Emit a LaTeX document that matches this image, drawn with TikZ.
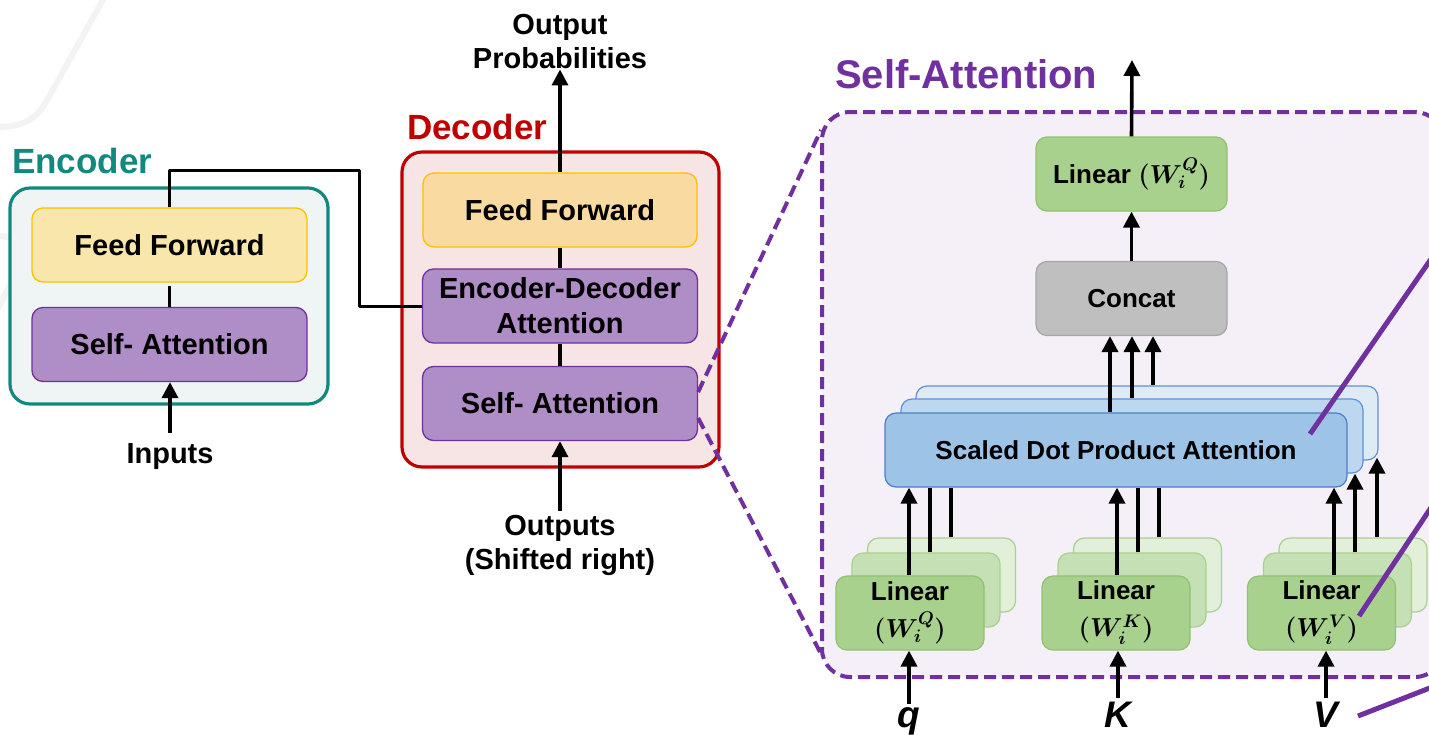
\RequirePackage{fix-cm}
\documentclass[tikz,border=0pt]{standalone}
\usepackage{fontspec}
\setmainfont{Liberation Sans}
\usetikzlibrary{arrows.meta,calc}

\newcommand\fsz[2]{\fontsize{#1}{#2}\selectfont}
\newcommand\wmat[1]{{\boldmath\((W_i^{#1})\)}}

\definecolor{encline}{HTML}{12897F}
\definecolor{encfill}{HTML}{EFF5F5}
\definecolor{decline}{HTML}{C00000}
\definecolor{decfill}{HTML}{F7E4E4}
\definecolor{ffefill}{HTML}{F8E6AA}
\definecolor{ffdfill}{HTML}{F9DAA0}
\definecolor{ffline}{HTML}{FFC000}
\definecolor{safill}{HTML}{AF8DC6}
\definecolor{purp}{HTML}{7030A0}
\definecolor{panfill}{HTML}{F5F0F7}
\definecolor{gA}{HTML}{A9D18E}
\definecolor{gAline}{HTML}{8FC26E}
\definecolor{gB}{HTML}{C5E0B4}
\definecolor{gC}{HTML}{E2F0D9}
\definecolor{gBline}{HTML}{A9D18E}
\definecolor{bA}{HTML}{9DC3E6}
\definecolor{bAline}{HTML}{4A7ECF}
\definecolor{bB}{HTML}{BDD7EE}
\definecolor{bC}{HTML}{DEEBF7}
\definecolor{bBline}{HTML}{5B93D8}
\definecolor{catfill}{HTML}{BFBFBF}
\definecolor{catline}{HTML}{A6A6A6}
\definecolor{wmark}{HTML}{F3F3F3}

\tikzset{
  blk/.style={draw, rounded corners=11pt, line width=1.3pt, inner sep=0pt,
    align=center, font={\fsz{29}{35}\bfseries}},
  ffE/.style={blk, fill=ffefill, draw=ffline, minimum width=275pt, minimum height=74pt},
  ffD/.style={blk, fill=ffdfill, draw=ffline, minimum width=274pt, minimum height=74pt},
  saB/.style={blk, fill=safill, draw=purp, minimum width=275pt, minimum height=74pt},
  sm/.style={draw, rounded corners=11pt, line width=1.2pt, inner sep=0pt,
    align=center, font={\fsz{26}{37}\bfseries}},
  linA/.style={sm, fill=gA, draw=gAline, minimum width=148pt, minimum height=74pt},
  linB/.style={sm, fill=gB, draw=gBline, minimum width=148pt, minimum height=74pt},
  linC/.style={sm, fill=gC, draw=gBline, minimum width=148pt, minimum height=74pt},
  sdA/.style={sm, fill=bA, draw=bAline, minimum width=462pt, minimum height=74pt},
  sdB/.style={sm, fill=bB, draw=bBline, minimum width=462pt, minimum height=74pt},
  sdC/.style={sm, fill=bC, draw=bBline, minimum width=462pt, minimum height=74pt},
  topbox/.style={sm, minimum width=191pt, minimum height=74pt},
  lbl/.style={inner sep=0pt, align=center, font={\fsz{29}{34}\bfseries}},
  ttl/.style={inner sep=0pt, anchor=base west, font={\fsz{35}{40}\bfseries}},
  vec/.style={inner sep=0pt, anchor=base, font={\fsz{37}{40}\bfseries\itshape}},
  ln/.style={line width=3.6pt},
  arr/.style={line width=3.6pt, -{Triangle[length=16pt, width=16pt]}},
  dashln/.style={draw=purp, line width=4pt, dash pattern=on 12pt off 6pt},
  slash/.style={draw=purp, line width=5pt},
  wm/.style={draw=wmark, line width=6pt, line cap=round}
}

\begin{document}
\begin{tikzpicture}[x=1pt, y=-1pt, line join=round]
\clip (0,0) rectangle (1429,734);
\fill[white] (0,0) rectangle (1429,734);

% faint background strokes
\draw[wm] (105,-4) -- (46,102) .. controls (36,120) and (22,127) .. (-4,127);
\draw[wm] (-4,236) .. controls (18,236) and (30,244) .. (24,258) -- (-4,312);

% ---------------- Encoder ----------------
\node[draw=encline, fill=encfill, line width=3.2pt, rounded corners=20pt,
      minimum width=318pt, minimum height=216pt] (enc) at (169,296) {};
\node[ttl, text=encline] (enclbl) at (12,173) {Encoder};
\node[ffE] (eff) at (169.5,245) {Feed Forward};
\node[saB] (esa) at (169.5,344.5) {Self- Attention};
\node[lbl, anchor=base] (inp) at (170,463) {Inputs};
\draw[ln, shorten <=3pt] (eff.south) -- (esa.north);
\draw[arr, shorten <=10pt] (inp.north) -- (inp.north |- esa.south);

% ---------------- Decoder ----------------
\node[draw=decline, fill=decfill, line width=3.2pt, rounded corners=20pt,
      minimum width=317pt, minimum height=315pt] (dec) at (560.5,309.5) {};
\node[ttl, text=decline] (declbl) at (407,139) {Decoder};
\node[ffD] (dff) at (560,210) {Feed Forward};
\node[saB] (eda) at (560,306) {Encoder-Decoder\\Attention};
\node[saB] (dsa) at (560,403.5) {Self- Attention};
\node[lbl] (outs) at (560,545) {Outputs\\(Shifted right)};
\node[lbl] (oprob) at (560,42) {Output\\Probabilities};
\draw[ln] (dff.south) -- (eda.north);
\draw[ln] (eda.south) -- (dsa.north);
\draw[arr, shorten <=4pt] (outs.north) -- (dsa.south);
\draw[arr] (dff.north) -- (oprob.south);

% encoder output feeding the encoder-decoder attention
\coordinate (bend) at (359,170);
\draw[line width=3pt] (eff.north) |- (bend) |- (eda.west);

% ---------------- Multi-head self-attention panel ----------------
\node[draw=purp, fill=panfill, line width=4pt, dash pattern=on 12pt off 6pt,
      rounded corners=28pt, minimum width=621pt, minimum height=565pt] (pan) at (1132.5,394.5) {};
\node[ttl, text=purp, font={\fsz{40}{44}\bfseries}] (pantitle) at (835,88) {Self-Attention};

% zoom lines from the decoder self-attention block
\coordinate (pc1) at ($(pan.north west)+(1,20)$);
\coordinate (pc2) at ($(pan.south west)+(0,-27)$);
\draw[dashln] ($(dsa.east)+(0,-11.5)$) -- (pc1);
\draw[dashln] ($(dsa.east)+(0,14.5)$) -- (pc2);

% output projection and concatenation
\node[topbox, fill=gA, draw=gAline] (lin) at (1131.5,174) {Linear \wmat{Q}};
\node[topbox, fill=catfill, draw=catline] (cat) at (1131.5,298.5) {Concat};
\coordinate (topout) at (1132,60);
\draw[arr] (lin.north) -- (topout);
\draw[arr] (cat.north) -- (lin.south);

% stacked scaled dot-product attention heads
\node[sdC] (sa3) at (1147,423) {};
\node[sdB] (sa2) at (1132,436) {};
\node[sdA] (sa1) at (1116,450) {Scaled Dot Product Attention};

% stacked linear projections for q, K, V
\foreach \nm/\cx in {q/910, k/1116, v/1321.5}{
  \node[linC] (l\nm3) at (\cx+31.5,575) {};
  \node[linB] (l\nm2) at (\cx+16,590) {};
}
\node[linA] (lq1) at (910,613) {Linear\\\wmat{Q}};
\node[linA] (lk1) at (1116,613) {Linear\\\wmat{K}};
\node[linA] (lv1) at (1321.5,613) {Linear\\\wmat{V}};

% heads into concat
\draw[arr] ($(sa1.north)+(-6,0)$) coordinate (h1) -- (h1 |- cat.south);
\draw[arr] ($(sa2.north)+(0,0)$) coordinate (h2) -- (h2 |- cat.south);
\draw[arr] ($(sa3.north)+(6,0)$) coordinate (h3) -- (h3 |- cat.south);

% projections into the attention heads
\draw[arr] ($(lq1.north)+(-1,0)$) coordinate (q1) -- (q1 |- sa1.south);
\draw[ln] ($(lq2.north)+(4,0)$) coordinate (q2) -- (q2 |- sa1.south);
\draw[ln] ($(lq3.north)+(9.5,0)$) coordinate (q3) -- (q3 |- sa1.south);
\draw[arr] ($(lk1.north)+(1,0)$) coordinate (k1) -- (k1 |- sa1.south);
\draw[ln] ($(lk2.north)+(6,0)$) coordinate (k2) -- (k2 |- sa1.south);
\draw[ln] ($(lk3.north)+(11.5,0)$) coordinate (k3) -- (k3 |- sa1.south);
\draw[arr] ($(lv1.north)+(12.5,0)$) coordinate (v1) -- (v1 |- sa1.south);
\draw[arr] ($(lv2.north)+(17.5,0)$) coordinate (v2) -- (v2 |- sa2.south);
\draw[arr] ($(lv3.north)+(24,0)$) coordinate (v3) -- ($(v3 |- sa3.south)+(0,-3)$);

% inputs q, K, V
\node[vec] (qin) at (909,727) {q};
\node[vec] (kin) at (1118,727) {K};
\node[vec] (vin) at (1326,727) {V};
\draw[arr, shorten <=3pt] (qin.north) -- (qin.north |- lq1.south);
\draw[arr, shorten <=3pt] (kin.north) -- (kin.north |- lk1.south);
\draw[arr, shorten <=3pt] (vin.north) -- (vin.north |- lv1.south);

% purple strokes entering from the right
\coordinate (s1a) at (1310,434); \coordinate (s1b) at (1440,246);
\coordinate (s2a) at (1359,616); \coordinate (s2b) at (1440,494);
\coordinate (s3a) at (1358,716); \coordinate (s3b) at (1440,684);
\draw[slash] (s1a) -- (s1b);
\draw[slash] (s2a) -- (s2b);
\draw[slash] (s3a) -- (s3b);
\end{tikzpicture}
\end{document}
